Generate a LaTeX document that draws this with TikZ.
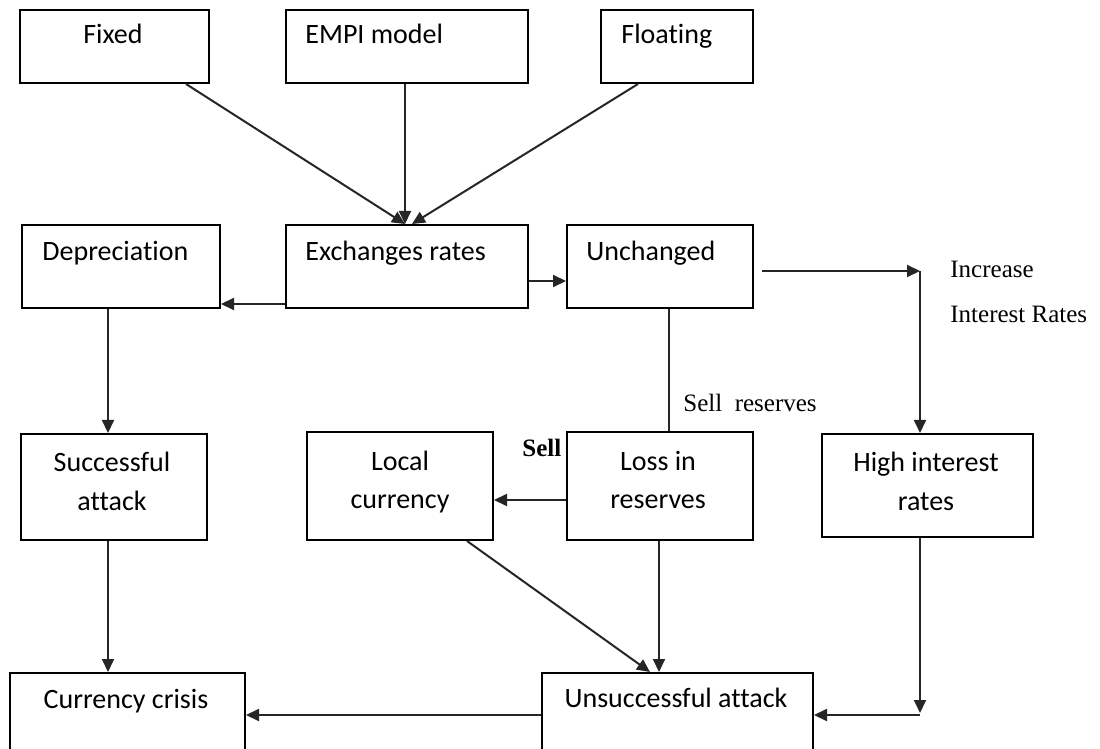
\documentclass[tikz,border=0pt]{standalone}
\usepackage{fontspec}
\setmainfont[Ligatures=NoCommon]{Carlito}
\newfontfamily\labelserif{Liberation Serif}
\usetikzlibrary{arrows.meta,fit}
\begin{document}
\begin{tikzpicture}[x=0.5pt,y=-0.5pt,
  box/.style={draw=black,line width=1pt,inner sep=0pt},
  boxtxt/.style={inner sep=0pt,font=\fontsize{14}{19.35}\selectfont,text=black},
  lbl/.style={inner sep=0pt,font=\labelserif\fontsize{12.5}{15}\selectfont,text=black},
  conn/.style={line width=1pt,draw=black!85},
  arr/.style={conn,-{Triangle[length=6.5pt,width=6pt]}}]
\useasboundingbox (0,0) rectangle (1100,749);
\clip (0,0) rectangle (1100,749);
% boxes
\node[box,fit={(20,10) (209,83)}] (fixed) {};
\node[box,fit={(286,10) (528,83)}] (empi) {};
\node[box,fit={(601,10) (753,83)}] (float) {};
\node[box,fit={(22,225) (220,308)}] (dep) {};
\node[box,fit={(286,225) (528,308)}] (exch) {};
\node[box,fit={(567,225) (753,308)}] (unch) {};
\node[box,fit={(21,434) (207,540)}] (succ) {};
\node[box,fit={(307,432) (493,540)}] (local) {};
\node[box,fit={(567,432) (753,540)}] (loss) {};
\node[box,fit={(822,434) (1033,537)}] (high) {};
\node[box,fit={(10,673) (245,770)}] (crisis) {};
\node[box,fit={(542,673) (813,770)}] (unsucc) {};
% texts
\node[boxtxt,anchor=base] (tfixed) at (113,44) {Fixed};
\node[boxtxt,anchor=base west] (tempi) at (305,44) {EMPI model};
\node[boxtxt,anchor=base west] (tfloat) at (621,44) {Floating};
\node[boxtxt,anchor=base west] (tdep) at (42,261) {Depreciation};
\node[boxtxt,anchor=base west] (texch) at (305,261) {Exchanges rates};
\node[boxtxt,anchor=base west] (tunch) at (586,261) {Unchanged};
\node[boxtxt,anchor=base,align=center] (tsucc) at (112,510.7) {Successful\\attack};
\node[boxtxt,anchor=base,align=center] (tlocal) at (400,509) {Local\\currency};
\node[boxtxt,anchor=base,align=center] (tloss) at (658,509) {Loss in\\reserves};
\node[boxtxt,anchor=base,align=center] (thigh) at (926,510.7) {High interest\\rates};
\node[boxtxt,anchor=base] (tcrisis) at (126,708) {Currency crisis};
\node[boxtxt,anchor=base] (tunsucc) at (676,707) {Unsuccessful attack};
\node[lbl,anchor=base west] (tinc) at (950,278) {Increase};
\node[lbl,anchor=base west] (tir) at (950,323) {Interest Rates};
\node[lbl,anchor=base west] (tsellres) at (683,411.5) {Sell\ \ reserves};
\node[lbl,anchor=base west] (tsell) at (522,456.5) {\bfseries Sell};
% guide coordinates
\coordinate (gF) at (186,0);
\coordinate (gM) at (405,0);
\coordinate (gFl) at (638,0);
\coordinate (gM2) at (412,0);
\coordinate (gA) at (108,0);
\coordinate (gU) at (669,0);
\coordinate (gL) at (659,0);
\coordinate (gLo) at (467,0);
\coordinate (gUd) at (650,0);
\coordinate (gH) at (920,0);
\coordinate (hE) at (0,304);
\coordinate (hU) at (0,281);
\coordinate (hS) at (0,500);
\coordinate (hB) at (0,715);
\coordinate (inc) at (920,271);
\coordinate (cb) at (920,715);
% connectors
\draw[arr] (fixed.south -| gF) -- (exch.north -| gM);
\draw[arr] (empi.south -| gM) -- (exch.north -| gM);
\draw[arr] (float.south -| gFl) -- (exch.north -| gM2);
\draw[arr] (exch.west |- hE) -- (dep.east |- hE);
\draw[arr] (exch.east |- hU) -- (unch.west |- hU);
\draw[arr,shorten <=4pt] (unch.east |- inc) -- (inc);
\draw[arr] (inc) -- (high.north -| inc);
\draw[arr] (dep.south -| gA) -- (succ.north -| gA);
\draw[arr] (succ.south -| gA) -- (crisis.north -| gA);
\draw[conn] (unch.south -| gU) -- (loss.north -| gU);
\draw[arr] (loss.west |- hS) -- (local.east |- hS);
\draw[arr] (local.south -| gLo) -- (unsucc.north -| gUd);
\draw[arr] (loss.south -| gL) -- (unsucc.north -| gL);
\draw[arr,shorten >=1pt] (high.south -| gH) -- (cb);
\draw[arr] (cb) -- (unsucc.east |- cb);
\draw[arr] (unsucc.west |- hB) -- (crisis.east |- hB);
\end{tikzpicture}
\end{document}
